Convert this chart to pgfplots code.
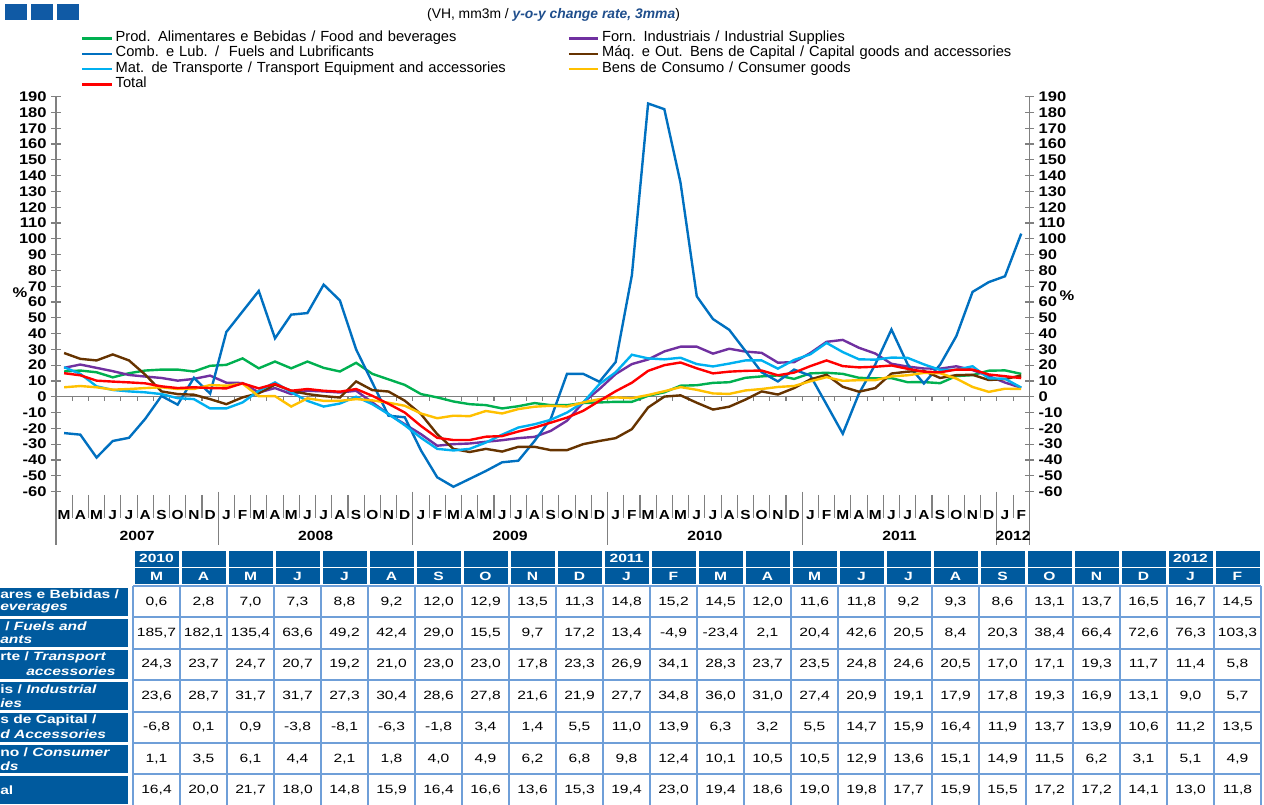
\documentclass[border=0pt]{standalone}
\usepackage{pgfplots}
\pgfplotsset{compat=1.18}
\usepackage{pgfplotstable}
\usepackage{fontspec}
\setmainfont{Liberation Sans}
\newfontfamily\tickfont[FakeStretch=1.18]{Liberation Sans}
\newfontfamily\tablefont[FakeStretch=1.3]{Liberation Sans}
\definecolor{cfood}{HTML}{00B050}
\definecolor{cfuel}{HTML}{0070C0}
\definecolor{ctrans}{HTML}{00B0F0}
\definecolor{cind}{HTML}{7030A0}
\definecolor{ccap}{HTML}{663300}
\definecolor{ccons}{HTML}{FFC000}
\definecolor{ctot}{HTML}{FF0000}
\definecolor{hdrblue}{HTML}{005A9E}
\definecolor{brdblue}{HTML}{6F9FD8}
\definecolor{axgray}{HTML}{808080}
\definecolor{titleblue}{HTML}{1F4E8C}
\definecolor{sqblue}{HTML}{105AA5}

\pgfplotstableread{
i food fuel trans ind cap cons tot
0 16 -23 18.7 18.3 27.7 6 14.9
1 16.6 -24 14.5 20.4 24 6.8 13.6
2 15.5 -38.5 6.6 18.3 23 6 10.2
3 12.3 -28 4.3 16.2 26.8 4.5 9.6
4 14.9 -26 3.4 13.8 23 4.9 9.1
5 16.6 -14 2.8 12.8 14 5.5 8.5
6 17.2 0.5 1.7 11.9 3.4 6 6.6
7 17.2 -5 -0.9 10.2 1.7 4.9 5.5
8 16 12 -1.5 11.3 1.3 4.9 6
9 19.6 2 -7.4 13.4 -1.5 7.4 5.5
10 20.2 41 -7.4 8.9 -4.7 7 5.3
11 24.3 54 -3.6 8.7 -0.4 8.3 8.5
12 18 67 3.8 2.7 2.2 0.3 5.3
13 22.3 37 9.1 5.5 7.7 0.4 8.1
14 18 52 2.8 1.7 3.8 -6.2 3.8
15 22.3 53 -2.6 3.8 1.7 -1 4.9
16 18.3 71 -6.2 3.4 0.4 -2.6 3.8
17 16 61 -4.3 2.7 -0.5 -2.6 3.2
18 21.5 30 0 3.8 9.7 -1.5 4.9
19 14.5 9 -4.7 -3.6 4.2 -2.3 0.6
20 11 -12 -11 -11 3.3 -3.8 -4.5
21 7.5 -13 -18 -17.4 -2.5 -5.7 -10
22 1.7 -34 -26 -23.7 -11 -10.6 -18.5
23 -0.4 -51 -33 -31 -23.7 -13.6 -26
24 -3 -57 -34 -30 -33 -12 -27.4
25 -4.7 -52 -33 -29.6 -35 -12.3 -27.4
26 -5.3 -47 -29 -28.5 -33 -9 -25.3
27 -7.4 -41.5 -24 -27.5 -34.7 -10.6 -24.9
28 -6 -40.5 -19.5 -26.2 -31.7 -7.8 -22
29 -4 -28 -17.4 -25.4 -31.7 -6.3 -19.5
30 -5.3 -14 -14.6 -21.6 -33.8 -5.7 -16.4
31 -5.3 14.5 -10 -15.2 -33.8 -6.2 -13.2
32 -4 14.5 -3.6 -3.6 -30 -3.6 -8.9
33 -3.6 9.5 8 4.9 -28 -1.5 -2.6
34 -3.2 22 15.5 14.4 -26.2 -0.4 3.5
35 -3.2 77 26.6 20.7 -20.5 -0.9 8.9
36 0.6 185.7 24.3 23.6 -6.8 1.1 16.4
37 2.8 182.1 23.7 28.7 0.1 3.5 20.0
38 7.0 135.4 24.7 31.7 0.9 6.1 21.7
39 7.3 63.6 20.7 31.7 -3.8 4.4 18.0
40 8.8 49.2 19.2 27.3 -8.1 2.1 14.8
41 9.2 42.4 21.0 30.4 -6.3 1.8 15.9
42 12.0 29.0 23.0 28.6 -1.8 4.0 16.4
43 12.9 15.5 23.0 27.8 3.4 4.9 16.6
44 13.5 9.7 17.8 21.6 1.4 6.2 13.6
45 11.3 17.2 23.3 21.9 5.5 6.8 15.3
46 14.8 13.4 26.9 27.7 11.0 9.8 19.4
47 15.2 -4.9 34.1 34.8 13.9 12.4 23.0
48 14.5 -23.4 28.3 36.0 6.3 10.1 19.4
49 12.0 2.1 23.7 31.0 3.2 10.5 18.6
50 11.6 20.4 23.5 27.4 5.5 10.5 19.0
51 11.8 42.6 24.8 20.9 14.7 12.9 19.8
52 9.2 20.5 24.6 19.1 15.9 13.6 17.7
53 9.3 8.4 20.5 17.9 16.4 15.1 15.9
54 8.6 20.3 17.0 17.8 11.9 14.9 15.5
55 13.1 38.4 17.1 19.3 13.7 11.5 17.2
56 13.7 66.4 19.3 16.9 13.9 6.2 17.2
57 16.5 72.6 11.7 13.1 10.6 3.1 14.1
58 16.7 76.3 11.4 9.0 11.2 5.1 13.0
59 14.5 103.3 5.8 5.7 13.5 4.9 11.8
}\datatable

\begin{document}
\begin{tikzpicture}
\useasboundingbox (0,0) rectangle (948pt,-603pt);
\begin{axis}[
  at={(42pt,-368.625pt)}, anchor=south west,
  scale only axis, width=730pt, height=296.1pt,
  xmin=-0.5, xmax=59.5, ymin=-60, ymax=190,
  axis y line*=left, axis x line*=bottom,
  x axis line style={draw=none},
  y axis line style={draw=axgray, line width=0.9pt},
  ytick={-60,-50,...,190},
  tick align=center,
  major tick length=7pt,
  ytick style={draw=axgray, line width=0.9pt},
  xtick={0,...,59},
  xtick style={draw=none},
  xticklabels={M,A,M,J,J,A,S,O,N,D,
    J,F,M,A,M,J,J,A,S,O,N,D,
    J,F,M,A,M,J,J,A,S,O,N,D,
    J,F,M,A,M,J,J,A,S,O,N,D,
    J,F,M,A,M,J,J,A,S,O,N,D,
    J,F},
  /pgf/number format/assume math mode=true,
  yticklabel style={font=\tickfont\bfseries\fontsize{10.5}{12}\selectfont},
  xticklabel style={font=\tickfont\bfseries\fontsize{9.8}{11}\selectfont, anchor=center, yshift=-13.9pt},
  extra y ticks={0}, extra y tick labels={},
  extra y tick style={grid=major, major grid style={draw=axgray, line width=0.9pt}},
  clip=false,
  legend columns=2,
  legend cell align=left,
  legend style={at={(0.0257,1.168)}, anchor=north west, draw=none, fill=none,
    inner sep=0pt, column sep=0pt, row sep=0pt,
    font=\fontsize{11}{13}\selectfont,
    nodes={text width=337pt, inner xsep=2pt, inner ysep=0pt, text height=8pt, text depth=3.55pt}},
  legend image code/.code={\draw[#1] (0pt,0pt) -- (22pt,0pt);},
]
\pgfplotsinvokeforeach{0,...,58}{
  \draw[axgray, line width=0.9pt] (axis cs:#1+0.5,0) -- ++(0pt,-3pt);
  \draw[axgray, line width=0.9pt] (axis cs:#1+0.5,-60) ++(0pt,-2.6pt) -- ++(0pt,-17.4pt);
}
\pgfplotsinvokeforeach{-0.5,9.5,21.5,33.5,45.5,57.5,59.5}{
  \draw[axgray, line width=0.9pt] (axis cs:#1,-60) -- ++(0pt,-40pt);
}
\node[font=\tickfont\bfseries\fontsize{10}{12}\selectfont, yshift=-33.4pt] at (axis cs:4.5,-60) {2007};
\node[font=\tickfont\bfseries\fontsize{10}{12}\selectfont, yshift=-33.4pt] at (axis cs:15.5,-60) {2008};
\node[font=\tickfont\bfseries\fontsize{10}{12}\selectfont, yshift=-33.4pt] at (axis cs:27.5,-60) {2009};
\node[font=\tickfont\bfseries\fontsize{10}{12}\selectfont, yshift=-33.4pt] at (axis cs:39.5,-60) {2010};
\node[font=\tickfont\bfseries\fontsize{10}{12}\selectfont, yshift=-33.4pt] at (axis cs:51.5,-60) {2011};
\node[font=\tickfont\bfseries\fontsize{10}{12}\selectfont, yshift=-33.4pt] at (axis cs:58.5,-60) {2012};

\addplot[cfood, line width=1.8pt] table[x=i,y=food]{\datatable};
\addlegendentry{Prod. Alimentares e Bebidas / Food and beverages}
\addplot[cind, line width=1.8pt] table[x=i,y=ind]{\datatable};
\addlegendentry{Forn. Industriais / Industrial Supplies}
\addplot[cfuel, line width=1.8pt] table[x=i,y=fuel]{\datatable};
\addlegendentry{Comb. e Lub. /\ \ Fuels and Lubrificants}
\addplot[ccap, line width=1.8pt] table[x=i,y=cap]{\datatable};
\addlegendentry{Máq. e Out. Bens de Capital / Capital goods and accessories}
\addplot[ctrans, line width=1.8pt] table[x=i,y=trans]{\datatable};
\addlegendentry{Mat. de Transporte / Transport Equipment and accessories}
\addplot[ccons, line width=1.8pt] table[x=i,y=cons]{\datatable};
\addlegendentry{Bens de Consumo / Consumer goods}
\addplot[ctot, line width=1.8pt] table[x=i,y=tot]{\datatable};
\addlegendentry{Total}
\end{axis}

\begin{axis}[
  at={(42pt,-368.625pt)}, anchor=south west,
  scale only axis, width=730pt, height=296.1pt,
  xmin=-0.5, xmax=59.5, ymin=-60, ymax=190,
  axis y line*=right, axis x line=none,
  y axis line style={draw=axgray, line width=0.9pt},
  ytick={-60,-50,...,190},
  tick align=center,
  major tick length=7pt,
  ytick style={draw=axgray, line width=0.9pt},
  /pgf/number format/assume math mode=true,
  yticklabel style={font=\tickfont\bfseries\fontsize{10.5}{12}\selectfont},
]
\addplot[draw=none] table[x=i,y=tot]{\datatable};
\end{axis}

\begin{scope}[x=0.75pt,y=-0.75pt]
% top squares
\fill[sqblue] (5,4) rectangle (27,20);
\fill[sqblue] (31,4) rectangle (53,20);
\fill[sqblue] (57,4) rectangle (79,20);
% title
\node at (553.5,14.5) {\fontsize{10.4}{12}\selectfont (VH, mm3m / \textcolor{titleblue}{\bfseries\itshape y-o-y change rate, 3mma})};
% percent signs
\node[font=\tickfont\bfseries\fontsize{10.5}{12}\selectfont] at (20,293) {\%};
\node[font=\tickfont\bfseries\fontsize{10.5}{12}\selectfont] at (1067,296) {\%};

% table header
\foreach \m [count=\c from 0] in {M,A,M,J,J,A,S,O,N,D,J,F,M,A,M,J,J,A,S,O,N,D,J,F} {
  \fill[hdrblue] ({133+47*\c+1.5},551) rectangle ({133+47*\c+45.5},566.5);
  \fill[hdrblue] ({133+47*\c+1.5},568) rectangle ({133+47*\c+45.5},584);
  \node[text=white, font=\tablefont\bfseries\fontsize{9}{10}\selectfont] at ({156.5+47*\c},576) {\m};
}
\node[text=white, font=\tablefont\bfseries\fontsize{9}{10}\selectfont] at (156.5,558.5) {2010};
\node[text=white, font=\tablefont\bfseries\fontsize{9}{10}\selectfont] at ({156.5+47*10},558.5) {2011};
\node[text=white, font=\tablefont\bfseries\fontsize{9}{10}\selectfont] at ({156.5+47*22},558.5) {2012};

% label column
\foreach \r in {0,...,6} {
  \fill[hdrblue] (0,{586+31.4*\r+1.5}) rectangle (128,{586+31.4*(\r+1)-1.5});
}
\begin{scope}[every node/.style={text=white, anchor=west, inner sep=0pt, font=\tablefont\bfseries\fontsize{9}{10}\selectfont}]
\node at (0,594.5) {ares e Bebidas /};
\node at (0,608.5) {\itshape everages};
\node at (5,626) {/ \itshape Fuels and};
\node at (0,640) {\itshape ants};
\node at (0,657.5) {rte / \itshape Transport};
\node at (26,671.5) {\itshape accessories};
\node at (0,689) {is / \itshape Industrial};
\node at (0,703) {\itshape ies};
\node at (0,720.5) {s de Capital /};
\node at (0,734.5) {\itshape d Accessories};
\node at (0,752) {no / \itshape Consumer};
\node at (0,766) {\itshape ds};
\node at (0,790.5) {al};
\end{scope}

% table grid
\foreach \c in {0,...,24} {
  \draw[brdblue, line width=1.6pt] ({133+47*\c},586) -- ({133+47*\c},806);
}
\foreach \r in {0,...,7} {
  \draw[brdblue, line width=1.6pt] (133,{586+31.4*\r}) -- (1261,{586+31.4*\r});
}
% table values
\foreach \col [count=\r from 0] in {food,fuel,trans,ind,cap,cons,tot} {
  \foreach \c in {0,...,23} {
    \pgfmathtruncatemacro\row{36+\c}
    \pgfplotstablegetelem{\row}{\col}\of\datatable
    \node[font=\tablefont\fontsize{9}{10}\selectfont] at ({156.5+47*\c},{601.7+31.4*\r})
      {\pgfmathprintnumber[fixed, fixed zerofill, precision=1, use comma, assume math mode=true]{\pgfplotsretval}};
  }
}
\end{scope}
\end{tikzpicture}
\end{document}
